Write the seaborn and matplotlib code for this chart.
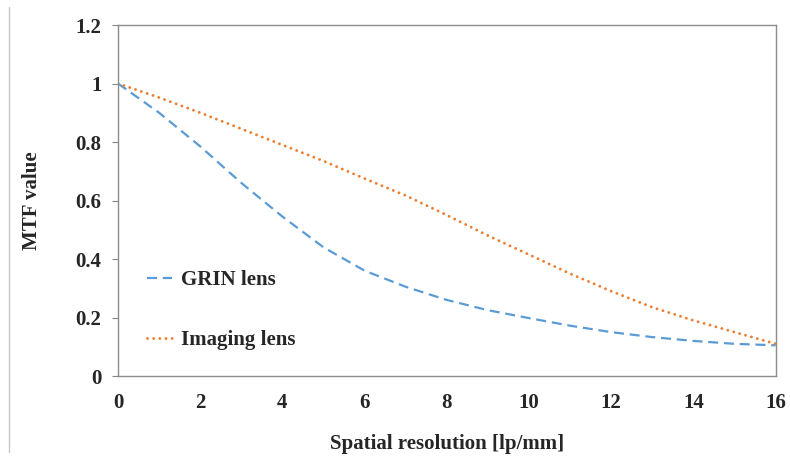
import pandas as pd
import matplotlib.pyplot as plt
import matplotlib.lines as mlines
import seaborn as sns

# MTF curves
resolution = [0, 1, 2, 3, 4, 5, 6, 7, 8, 9, 10, 11, 12, 13, 14, 15, 16]
grin_mtf = [1.0, 0.90, 0.785, 0.66, 0.545, 0.44, 0.36, 0.305, 0.26, 0.225,
            0.198, 0.172, 0.15, 0.133, 0.12, 0.11, 0.105]
imaging_mtf = [1.0, 0.952, 0.90, 0.845, 0.79, 0.735, 0.675, 0.617, 0.55,
               0.48, 0.415, 0.35, 0.29, 0.235, 0.19, 0.15, 0.11]
series_names = ['GRIN lens', 'Imaging lens']
y_ticks = [0, 0.2, 0.4, 0.6, 0.8, 1, 1.2]
y_tick_labels = ['0', '0.2', '0.4', '0.6', '0.8', '1', '1.2']
x_ticks = [0, 2, 4, 6, 8, 10, 12, 14, 16]

df = pd.DataFrame({
    'res': resolution * 2,
    'mtf': grin_mtf + imaging_mtf,
    'lens': [series_names[0]] * len(resolution) + [series_names[1]] * len(resolution),
})

sns.set_theme(style='white')
plt.rcParams['font.family'] = ['Liberation Serif', 'DejaVu Serif']
plt.rcParams['font.weight'] = 'bold'
fs = 15

fig = plt.figure(figsize=(7.9, 4.59), dpi=100)
ax = fig.add_axes([0.1494, 0.1808, 0.8324, 0.7647])

colors = {'GRIN lens': '#5B9BD5', 'Imaging lens': '#ED7D31'}
sns.lineplot(data=df, x='res', y='mtf', hue='lens', palette=colors,
             linewidth=1.6, legend=False, ax=ax)

# Excel-like dash styles
grin_dash = (4.5, 2.6)
img_dash = (0.01, 2.1)
grin_line, img_line = ax.lines[0], ax.lines[1]
grin_line.set_dashes(grin_dash)
img_line.set_linewidth(2.1)
img_line.set_dashes(img_dash)
img_line.set_dash_capstyle('round')

ax.set_xlim(0, 16)
ax.set_ylim(0, 1.2)
ax.set_xticks(x_ticks)
ax.set_yticks(y_ticks)
ax.set_yticklabels(y_tick_labels)
ax.tick_params(axis='x', length=0, pad=12, labelsize=fs)
ax.tick_params(axis='y', length=4, width=0.8, color='#888888', direction='out',
               pad=8, labelsize=fs, left=True)
for lab in ax.get_xticklabels() + ax.get_yticklabels():
    lab.set_fontweight('bold')

for sp in ax.spines.values():
    sp.set_visible(True)
    sp.set_color('#8c8c8c')
    sp.set_linewidth(1.0)

ax.set_xlabel('Spatial resolution [lp/mm]', fontsize=fs, fontweight='bold', labelpad=15)
ax.set_ylabel('MTF value', fontsize=fs, fontweight='bold', labelpad=24)

# legend inside the plot, no frame
h1 = mlines.Line2D([], [], color=colors['GRIN lens'], linewidth=1.6, dashes=grin_dash)
h2 = mlines.Line2D([], [], color=colors['Imaging lens'], linewidth=2.1,
                   dashes=img_dash, dash_capstyle='round')
leg = ax.legend([h1, h2], series_names, loc='lower left', bbox_to_anchor=(0.015, 0.021),
                frameon=False, handlelength=1.2, handletextpad=0.45, labelspacing=1.9,
                prop={'family': 'Liberation Serif', 'weight': 'bold', 'size': fs})

# thin border line at the left edge of the image
fig.add_artist(mlines.Line2D([9 / 790, 9 / 790], [7 / 459, 452 / 459],
                             color='#c8c8c8', linewidth=1.0))

fig.savefig('out.png', dpi=100)
